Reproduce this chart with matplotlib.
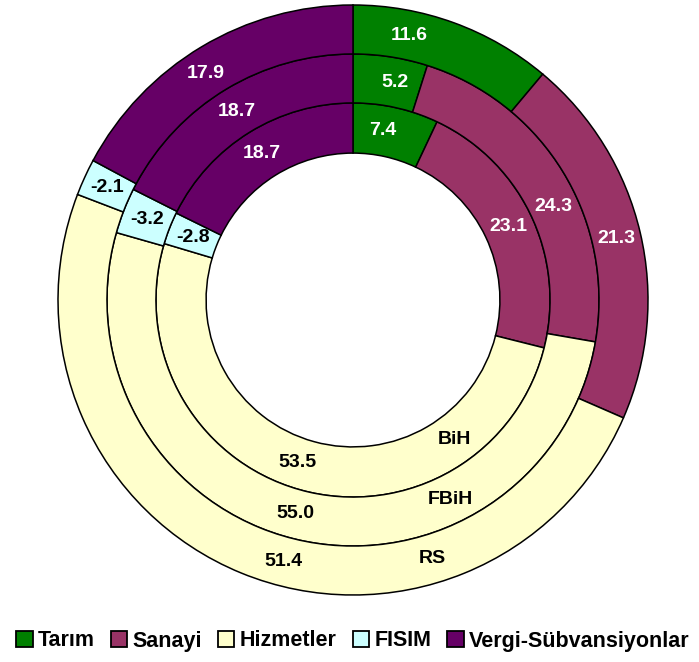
import numpy as np
import matplotlib.pyplot as plt

plt.rcParams['font.family'] = ['Liberation Sans', 'DejaVu Sans']
plt.rcParams['font.weight'] = 'bold'

# Sector shares (%) by entity
categories = ['Tarım', 'Sanayi', 'Hizmetler', 'FISIM', 'Vergi-Sübvansiyonlar']
rings = ['BiH', 'FBiH', 'RS']          # inner -> outer
bih = [7.4, 23.1, 53.5, -2.8, 18.7]
fbih = [5.2, 24.3, 55.0, -3.2, 18.7]
rs = [11.6, 21.3, 51.4, -2.1, 17.9]

colors = ['#008000', '#993366', '#FFFFCC', '#CCFFFF', '#660066']
text_colors = ['white', 'white', 'black', 'black', 'white']

fig = plt.figure(figsize=(6.99, 6.62), dpi=100)
# pie centre at (353, 300) px, outer radius 295 px
ax = fig.add_axes([(353 - 295) / 699, (662 - 595) / 662, 590 / 699, 590 / 662])

outer_r = [0.668, 0.834, 1.0]
width = [0.17, 0.166, 0.166]
name_angle = [144, 154, 163]   # clockwise from top, where the ring name sits
# labels that were nudged off the slice middle (ring, category) -> clockwise deg
label_angle = {(0, 0): 10, (1, 0): 11, (2, 0): 12,
               (1, 1): 65,
               (0, 2): 199, (1, 2): 195, (2, 2): 195,
               (2, 4): 327}

for i, vals in enumerate([bih, fbih, rs]):
    wedges, _ = ax.pie(np.abs(vals), radius=outer_r[i], colors=colors,
                       startangle=90, counterclock=False,
                       wedgeprops=dict(width=width[i], edgecolor='black', linewidth=1.1))
    rmid = outer_r[i] - width[i] / 2
    for j, (w, v, tc) in enumerate(zip(wedges, vals, text_colors)):
        deg = (w.theta1 + w.theta2) / 2
        if (i, j) in label_angle:
            deg = 90 - label_angle[(i, j)]
        a = np.deg2rad(deg)
        ax.text(rmid * np.cos(a), rmid * np.sin(a), f'{v:.1f}', color=tc,
                ha='center', va='center', fontsize=14, fontweight='bold')
    a = np.deg2rad(90 - name_angle[i])
    ax.text(rmid * np.cos(a), rmid * np.sin(a), rings[i], color='black',
            ha='center', va='center', fontsize=14, fontweight='bold')

ax.set_xlim(-1, 1)
ax.set_ylim(-1, 1)
ax.set_aspect('equal')
ax.axis('off')

handles = [plt.Rectangle((0, 0), 1, 1, facecolor=c, edgecolor='black', linewidth=1.3)
           for c in colors]
fig.legend(handles, categories, loc='center', bbox_to_anchor=(353 / 699, 1 - 641 / 662),
           ncol=5, frameon=False, handlelength=0.75, handleheight=0.75,
           handletextpad=0.25, columnspacing=0.75, borderaxespad=0,
           prop=dict(size=15.5, weight='bold'))

fig.savefig('out.png', dpi=100)
